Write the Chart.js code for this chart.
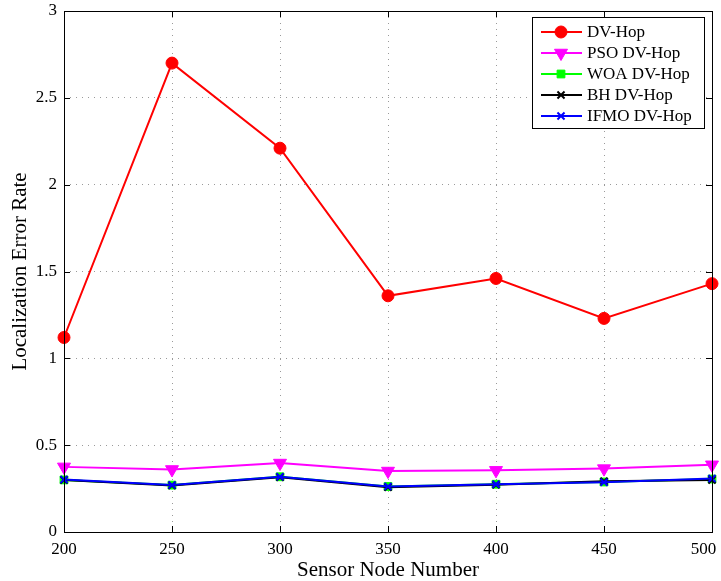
<!DOCTYPE html>
<html>
<head>
<meta charset="utf-8">
<script src="https://cdn.jsdelivr.net/npm/chart.js@4.4.1/dist/chart.umd.min.js"></script>
<style>
  body { margin: 0; background: #fff; }
  #chart { display: block; }
</style>
</head>
<body>
<canvas id="chart" width="721" height="581"></canvas>
<script>
const nodes = [200, 250, 300, 350, 400, 450, 500];
const dvHop = [1.12, 2.70, 2.21, 1.36, 1.46, 1.23, 1.43];
const psoDvHop = [0.375, 0.36, 0.397, 0.351, 0.355, 0.365, 0.387];
const woaDvHop = [0.30, 0.27, 0.318, 0.262, 0.275, 0.288, 0.305];
const bhDvHop = [0.30, 0.268, 0.315, 0.258, 0.272, 0.292, 0.30];
const ifmoDvHop = [0.302, 0.27, 0.318, 0.262, 0.275, 0.286, 0.308];

const xTicks = [200, 250, 300, 350, 400, 450, 500];
const yTicks = [0, 0.5, 1, 1.5, 2, 2.5, 3];

const serif = "'Liberation Serif', 'Times New Roman', serif";

const pts = (arr) => arr.map((v, i) => ({ x: nodes[i], y: v }));

const series = (label, values, color, style, radius, order, extra) => ({
  label: label,
  data: pts(values),
  borderColor: color,
  backgroundColor: color,
  pointBackgroundColor: color,
  pointBorderColor: color,
  borderWidth: 2,
  pointStyle: style,
  pointRadius: radius,
  pointBorderWidth: 1,
  tension: 0,
  clip: false,
  order: order,
  ...extra,
});

const data = {
  datasets: [
    series("DV-Hop", dvHop, "#ff0000", "circle", 6, 4),
    series("PSO DV-Hop", psoDvHop, "#ff00ff", "triangle", 7.5, 3, { pointRotation: 180 }),
    series("WOA DV-Hop", woaDvHop, "#00ff00", "rect", 5.5, 2),
    series("BH DV-Hop", bhDvHop, "#000000", "crossRot", 5, 1, { pointBorderWidth: 2 }),
    series("IFMO DV-Hop", ifmoDvHop, "#0000ff", "crossRot", 5, 0, { pointBorderWidth: 2 }),
  ],
};

// matlab style box, inward ticks and legend
const frame = {
  id: "frame",
  afterDraw: (chart) => {
    const ctx = chart.ctx;
    const a = chart.chartArea;
    const xs = chart.scales.x;
    const ys = chart.scales.y;
    ctx.save();
    ctx.strokeStyle = "#000";
    ctx.lineWidth = 1;
    ctx.beginPath();
    xTicks.forEach((t) => {
      const px = Math.round(xs.getPixelForValue(t)) + 0.5;
      ctx.moveTo(px, a.bottom);
      ctx.lineTo(px, a.bottom - 6);
      ctx.moveTo(px, a.top);
      ctx.lineTo(px, a.top + 6);
    });
    yTicks.forEach((t) => {
      const py = Math.round(ys.getPixelForValue(t)) + 0.5;
      ctx.moveTo(a.left, py);
      ctx.lineTo(a.left + 6, py);
      ctx.moveTo(a.right, py);
      ctx.lineTo(a.right - 6, py);
    });
    ctx.stroke();
    ctx.strokeRect(Math.round(a.left) + 0.5, Math.round(a.top) + 0.5,
      Math.round(a.right - a.left), Math.round(a.bottom - a.top));

    // legend
    const lx = 532, ly = 17, lw = 172, lh = 111;
    ctx.fillStyle = "#fff";
    ctx.fillRect(lx, ly, lw, lh);
    ctx.strokeRect(lx + 0.5, ly + 0.5, lw, lh);
    ctx.font = "17px " + serif;
    ctx.textBaseline = "middle";
    chart.data.datasets.forEach((ds, i) => {
      const y = ly + 15 + i * 21;
      ctx.strokeStyle = ds.borderColor;
      ctx.lineWidth = 2;
      ctx.beginPath();
      ctx.moveTo(541, y);
      ctx.lineTo(582, y);
      ctx.stroke();
      ctx.fillStyle = ds.pointBackgroundColor;
      ctx.lineWidth = ds.pointBorderWidth;
      Chart.helpers.drawPoint(ctx, {
        pointStyle: ds.pointStyle,
        radius: ds.pointRadius,
        rotation: ds.pointRotation || 0,
        borderWidth: ds.pointBorderWidth,
      }, 561, y);
      ctx.fillStyle = "#000";
      ctx.fillText(ds.label, 587, y + 1);
    });
    ctx.restore();
  },
};

const config = {
  type: "line",
  data: data,
  options: {
    responsive: false,
    animation: false,
    layout: { padding: { top: 11, right: 9, left: 0, bottom: 0 } },
    scales: {
      x: {
        type: "linear",
        min: 200,
        max: 500,
        afterBuildTicks: (s) => { s.ticks = xTicks.map((v) => ({ value: v })); },
        afterFit: (s) => { s.height = 49; s.paddingLeft = 0; s.paddingRight = 0; },
        border: { display: false, dash: [1, 5] },
        grid: {
          color: "#9a9a9a",
          lineWidth: 1,
          drawTicks: false,
        },
        ticks: {
          color: "#000",
          font: { family: serif, size: 17 },
          padding: 7,
          maxRotation: 0,
          // keep the last label inside the canvas, as matlab does
          callback: (v) => (v === 500 ? "500\u2002\u2002" : String(v)),
        },
        title: {
          display: true,
          text: "Sensor Node Number",
          color: "#000",
          font: { family: serif, size: 21 },
          padding: { top: 0, bottom: -2 },
        },
      },
      y: {
        min: 0,
        max: 3,
        afterBuildTicks: (s) => { s.ticks = yTicks.map((v) => ({ value: v })); },
        afterFit: (s) => { s.width = 64; s.paddingTop = 0; s.paddingBottom = 0; },
        border: { display: false, dash: [1, 5] },
        grid: {
          color: "#9a9a9a",
          lineWidth: 1,
          drawTicks: false,
        },
        ticks: {
          color: "#000",
          font: { family: serif, size: 17 },
          padding: 7,
          callback: (v) => String(v),
        },
        title: {
          display: true,
          text: "Localization Error Rate",
          color: "#000",
          font: { family: serif, size: 21 },
          padding: { top: 8, bottom: 0 },
        },
      },
    },
    plugins: {
      legend: { display: false },
      tooltip: { enabled: false },
    },
  },
  plugins: [frame],
};

const myChart = new Chart(document.getElementById("chart"), config);
</script>
</body>
</html>
